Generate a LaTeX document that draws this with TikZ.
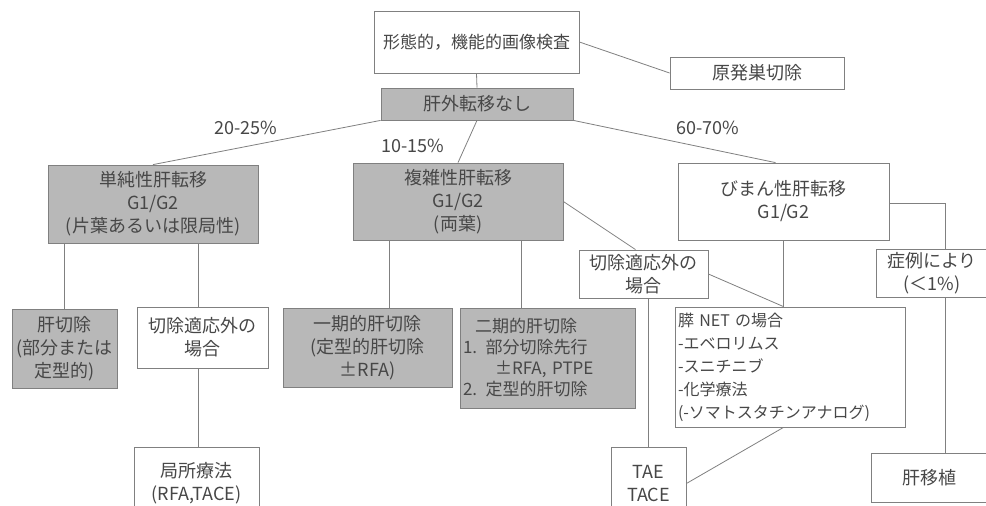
\documentclass[tikz,border=0pt]{standalone}
\usepackage{fontspec}
\setmainfont{Noto Sans CJK JP}
\usetikzlibrary{calc}
\begin{document}
\begin{tikzpicture}[x=1pt,y=-1pt,
  every node/.style={text=black!72},
  box/.style={draw=black!50, line width=0.8pt, inner sep=3pt, align=center,
    font=\fontsize{18}{23}\selectfont},
  graybox/.style={box, fill=black!28},
  conn/.style={draw=black!50, line width=0.8pt},
  pct/.style={font=\fontsize{18}{22}\selectfont}]
\useasboundingbox (0,0) rectangle (986,506);
\clip (0,0) rectangle (986,506);
\fill[white] (0,0) rectangle (986,506);

% nodes
\node[box, minimum width=205pt, minimum height=62pt, font=\fontsize{17}{22}\selectfont] (top) at (476.5,42) {形態的，機能的画像検査};
\node[box, minimum width=174pt, minimum height=32pt] (gen) at (757,73) {原発巣切除};
\node[graybox, minimum width=192pt, minimum height=32pt] (nomet) at (477,104) {肝外転移なし};
\node[graybox, minimum width=210pt, minimum height=78pt] (simple) at (153,204) {単純性肝転移\\G1/G2\\(片葉あるいは限局性)};
\node[graybox, minimum width=210pt, minimum height=77pt] (complex) at (458,201.5) {複雑性肝転移\\G1/G2\\(両葉)};
\node[box, minimum width=211pt, minimum height=77pt] (diffuse) at (783.5,201.5) {びまん性肝転移\\G1/G2};
\node[graybox, minimum width=105pt, minimum height=79pt, inner sep=1pt] (hep) at (64.5,348.5) {肝切除\\(部分または\\定型的)};
\node[box, minimum width=131pt, minimum height=61pt] (unresA) at (202.5,337.5) {切除適応外の\\場合};
\node[box, minimum width=125pt, minimum height=73pt] (local) at (196.5,483.5) {局所療法\\(RFA,TACE)};
\node[graybox, minimum width=169pt, minimum height=79pt] (one) at (367.5,347.5) {一期的肝切除\\(定型的肝切除\\±RFA)};
\node[graybox, minimum width=175pt, minimum height=100pt, text width=169pt, align=left, font=\fontsize{17}{21}\selectfont] (two) at (547.5,358) {\hspace*{12pt}二期的肝切除\\1. 部分切除先行\\\hspace*{32pt}±RFA, PTPE\\2. 定型的肝切除};
\node[box, minimum width=129pt, minimum height=48pt] (unresB) at (643.5,274) {切除適応外の\\場合};
\node[box, minimum width=230pt, minimum height=120pt, text width=224pt, align=left, font=\fontsize{16}{23}\selectfont] (net) at (790,367) {膵 NET の場合\\-エベロリムス\\-スニチニブ\\-化学療法\\(-ソマトスタチンアナログ)};
\node[box, minimum width=75pt, minimum height=73pt] (tae) at (648.5,483.5) {TAE\\TACE};
\node[box, minimum width=112pt, minimum height=48pt] (case) at (932,273) {症例により\\(＜1\%)};
\node[box, minimum width=117pt, minimum height=49pt] (tp) at (929.5,477.5) {肝移植};

% labels
\node[pct] (p1) at (246,128) {20-25\%};
\node[pct] (p2) at (413,146) {10-15\%};
\node[pct] (p3) at (708,128) {60-70\%};

% helper coordinates
\coordinate (vx) at (945,0);
\coordinate (vl) at (198,0);
\coordinate (cA) at ($(complex.south west)+(37,0)$);
\coordinate (cB) at ($(complex.south west)+(169,0)$);

% connectors
\draw[conn] (top.south) -- (nomet.north);
\draw[conn] (top.east) -- (gen.west);
\draw[conn] (nomet.south west) -- (simple.north);
\draw[conn] (nomet.south) -- (complex.north);
\draw[conn] (nomet.south east) -- ([xshift=-8pt]diffuse.north);
\draw[conn] (hep.north |- simple.south) -- (hep.north);
\draw[conn] (vl |- simple.south) -- (vl |- unresA.north);
\draw[conn] (vl |- unresA.south) -- (vl |- local.north);
\draw[conn] (cA) -- (cA |- one.north);
\draw[conn] (cB) -- (cB |- two.north);
\draw[conn] (complex.east) -- ([xshift=-8pt]unresB.north);
\draw[conn] (diffuse.south) -- (diffuse.south |- net.north);
\draw[conn] (unresB.east) -- (diffuse.south |- net.north);
\draw[conn] (tae.north |- unresB.south) -- (tae.north);
\draw[conn] (diffuse.south |- net.south) -- (tae.east);
\draw[conn] ([yshift=-2pt]diffuse.east) -| (vx |- case.north);
\draw[conn] (vx |- case.south) -- (vx |- tp.north);
\end{tikzpicture}
\end{document}
